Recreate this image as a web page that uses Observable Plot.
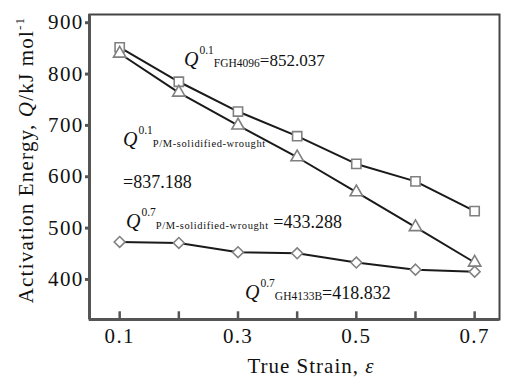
<!DOCTYPE html>
<html><head><meta charset="utf-8">
<script src="https://cdn.jsdelivr.net/npm/d3@7"></script>
<script src="https://cdn.jsdelivr.net/npm/@observablehq/plot@0.6"></script>
<style>body{margin:0;background:#fff} svg{display:block} svg text{font-family:"Liberation Serif","Times New Roman",Times,serif !important}</style>
</head><body><div id="chart"></div>
<script>
const strain = [0.1, 0.2, 0.3, 0.4, 0.5, 0.6, 0.7];
const qFGH4096 = [852, 785, 727, 679, 625, 591, 533];
const qPM = [840, 764, 700, 638, 570, 502, 433];
const qGH4133B = [473, 471, 453, 451, 433, 419, 415];
const seriesNames = ["FGH4096", "P/M-solidified-wrought", "GH4133B"];
const seriesSymbols = ["square", "triangle", "diamond2"];
const seriesRadius = [5.2, 4.6, 4.9];
const xTickValues = [0.1, 0.2, 0.3, 0.4, 0.5, 0.6, 0.7];
const xTickLabelValues = [0.1, 0.3, 0.5, 0.7];
const yTickValues = [400, 500, 600, 700, 800, 900];
const xDomain = [0.049, 0.742];
const yDomain = [322, 916];
const xLabel = "True Strain, ";
const yLabel = ["Activation Energy, ", "Q", "/kJ mol", "-1"];
// annotation texts: exponent, subscript, value (anchored in data units)
const annX = [0.2096, 0.1065, 0.1065, 0.1115, 0.3127];
const annY = [814, 658, 577, 499, 361];
const annSup = ["0.1", "0.1", "", "0.7", "0.7"];
const annSub = ["FGH4096", "P/M-solidified-wrought", "", "P/M-solidified-wrought", "GH4133B"];
const annValue = ["=852.037", "", "=837.188", " =433.288", "=418.832"];

const FONT = "'Liberation Serif', 'Times New Roman', Times, serif";
const seriesValues = [qFGH4096, qPM, qGH4133B];
const rows = seriesNames.flatMap((name, k) =>
  strain.map((s, i) => ({strain: s, q: seriesValues[k][i], series: name})));

const marks = [
  Plot.frame({stroke: "#444", strokeWidth: 2}),
  Plot.ruleX([xDomain[0]], {stroke: "#555", strokeWidth: 3}),
  Plot.ruleY([yDomain[0]], {stroke: "#555", strokeWidth: 3}),
  Plot.ruleX(xTickValues, {x: d => d, y1: yDomain[0], y2: yDomain[0] + 15, stroke: "#555", strokeWidth: 2.5}),
  Plot.axisY({ticks: yTickValues, tickSize: 4, tickPadding: 2, stroke: "#555", strokeWidth: 3, fill: "#111", label: null}),
  Plot.axisX({ticks: xTickLabelValues, tickSize: 0, tickPadding: 9, tickFormat: d => d.toFixed(1), fill: "#111", label: null})
];
seriesNames.forEach((name, k) => {
  const data = rows.filter(d => d.series === name);
  marks.push(Plot.line(data, {x: "strain", y: "q", stroke: "#1a1a1a", strokeWidth: 2}));
  marks.push(Plot.dot(data, {x: "strain", y: "q", symbol: () => seriesSymbols[k], r: seriesRadius[k], fill: "white", stroke: "#808080", strokeWidth: 1.6}));
});

const plot = Plot.plot({
  width: 505, height: 378,
  marginLeft: 89, marginRight: 6, marginTop: 14, marginBottom: 59,
  style: {fontFamily: FONT, fontSize: "21px", background: "white", letterSpacing: "1.3px"},
  x: {domain: xDomain},
  y: {domain: yDomain},
  symbol: {domain: seriesSymbols, range: seriesSymbols},
  marks
});
document.getElementById("chart").append(plot);

const sx = plot.scale("x"), sy = plot.scale("y");
const svg = d3.select(plot);
const g = svg.append("g").attr("font-family", FONT).attr("text-anchor", "start").attr("fill", "#111").style("letter-spacing", "0px");
annX.forEach((ax, i) => {
  const t = g.append("text").attr("text-anchor", "start").attr("x", sx.apply(ax)).attr("y", sy.apply(annY[i]));
  if (annSup[i]) {
    t.append("tspan").attr("font-style", "italic").attr("font-size", 20).text("Q");
    t.append("tspan").attr("font-size", 11.5).attr("dy", -12).attr("dx", 1).text(annSup[i]);
    t.append("tspan").attr("font-size", annSub[i].length > 10 ? 10.5 : 11.5).attr("dy", 13)
      .style("letter-spacing", annSub[i].length > 10 ? "0.6px" : "0px").text(annSub[i]);
    if (annValue[i]) t.append("tspan").attr("font-size", i === 0 ? 17 : 18).attr("dy", -1).text(annValue[i]);
  } else {
    t.append("tspan").attr("font-size", 18).text(annValue[i]);
  }
});
// axis titles
const xt = g.append("text").attr("x", 311).attr("y", 373).attr("text-anchor", "middle").attr("font-size", 21).style("letter-spacing", "1px");
xt.append("tspan").text(xLabel);
xt.append("tspan").attr("font-style", "italic").text("ε");
const yt = g.append("text").attr("transform", "translate(33,160) rotate(-90)").attr("text-anchor", "middle").attr("font-size", 21).style("letter-spacing", "1.2px");
yt.append("tspan").text(yLabel[0]);
yt.append("tspan").attr("font-style", "italic").text(yLabel[1]);
yt.append("tspan").text(yLabel[2]);
yt.append("tspan").attr("font-size", 13).attr("dy", -9).text(yLabel[3]);
</script>
</body></html>
